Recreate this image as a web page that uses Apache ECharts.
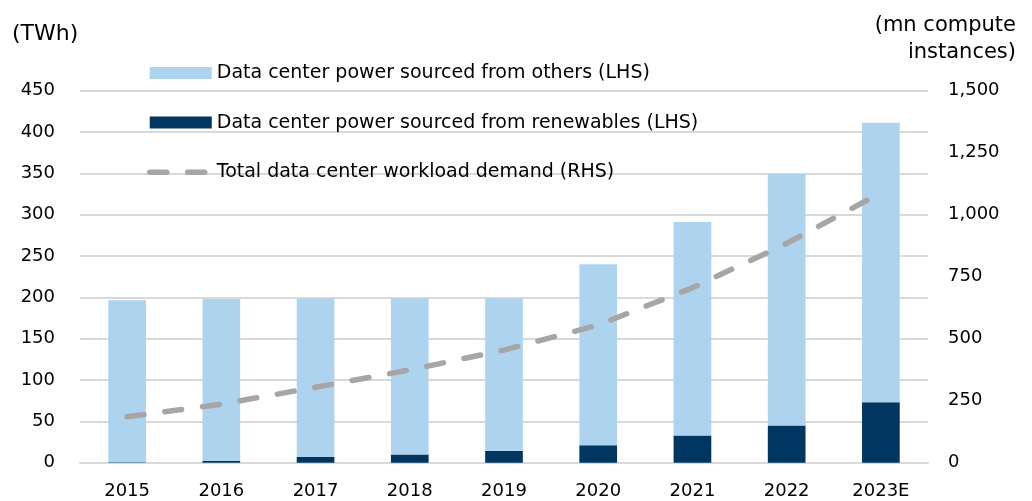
<!DOCTYPE html>
<html>
<head>
<meta charset="utf-8">
<script src="https://cdn.jsdelivr.net/npm/echarts@6/dist/echarts.min.js"></script>
<style>
  html, body { margin: 0; padding: 0; background: #fff; }
  #chart { width: 1032px; height: 501px; }
</style>
</head>
<body>
<div id="chart"></div>
<script>
var years = ['2015', '2016', '2017', '2018', '2019', '2020', '2021', '2022', '2023E'];
var renewables = [0.5, 2.5, 7, 10, 14, 21, 33, 45, 73];
var others = [196, 195.5, 191.5, 189, 185, 219, 258, 304, 338];
var workload = [185, 236, 304, 374, 454, 555, 705, 884, 1088];

var font = 'DejaVu Sans, sans-serif';
var dash = { color: '#A6A6A6', width: 5.5, type: [17, 21], cap: 'round' };

function titleText(s, size) {
    return { fontFamily: font, fontSize: size, fontWeight: 'normal', color: '#000', lineHeight: 27 };
}

var chart = echarts.init(document.getElementById('chart'));

var option = {
    animation: false,
    textStyle: { fontFamily: font },
    title: [
        { text: '(TWh)', left: 7, top: 15.5, textStyle: titleText('(TWh)', 22) },
        { text: '(mn compute', right: 11, top: 7.5, textStyle: titleText('', 21) },
        { text: 'instances)', right: 11, top: 34.5, textStyle: titleText('', 21) }
    ],
    legend: {
        orient: 'vertical',
        left: 142,
        top: 58,
        itemWidth: 62,
        itemHeight: 12,
        itemGap: 29.6,
        textStyle: { fontFamily: font, fontSize: 19, color: '#000', lineHeight: 20 },
        data: [
            { name: 'Data center power sourced from others (LHS)', icon: 'rect' },
            { name: 'Data center power sourced from renewables (LHS)', icon: 'rect' },
            { name: 'Total data center workload demand (RHS)', itemStyle: { opacity: 0 }, lineStyle: dash }
        ]
    },
    grid: { left: 80, right: 104, top: 90.6, bottom: 38.3 },
    xAxis: {
        type: 'category',
        data: years,
        axisLine: { lineStyle: { color: '#D9D9D9', width: 2 } },
        axisTick: { show: false },
        axisLabel: { fontFamily: font, fontSize: 18, color: '#000', margin: 20 }
    },
    yAxis: [
        {
            type: 'value',
            min: 0, max: 450, interval: 50,
            axisLine: { show: false },
            axisTick: { show: false },
            splitLine: { lineStyle: { color: '#D9D9D9', width: 2 } },
            axisLabel: { fontFamily: font, fontSize: 18, color: '#000', margin: 25 }
        },
        {
            type: 'value',
            min: 0, max: 1500, interval: 250,
            axisLine: { show: false },
            axisTick: { show: false },
            splitLine: { show: false },
            axisLabel: {
                fontFamily: font, fontSize: 18, color: '#000', margin: 20,
                formatter: function (v) { return v.toLocaleString('en-US'); }
            }
        }
    ],
    series: [
        {
            name: 'Data center power sourced from renewables (LHS)',
            type: 'bar',
            stack: 'power',
            barWidth: '40%',
            itemStyle: { color: '#003660' },
            data: renewables
        },
        {
            name: 'Data center power sourced from others (LHS)',
            type: 'bar',
            stack: 'power',
            barWidth: '40%',
            itemStyle: { color: '#ADD3EF' },
            data: others
        },
        {
            name: 'Total data center workload demand (RHS)',
            type: 'line',
            yAxisIndex: 1,
            symbol: 'none',
            lineStyle: dash,
            itemStyle: { color: '#A6A6A6' },
            data: workload
        }
    ]
};
chart.setOption(option);
</script>
</body>
</html>
